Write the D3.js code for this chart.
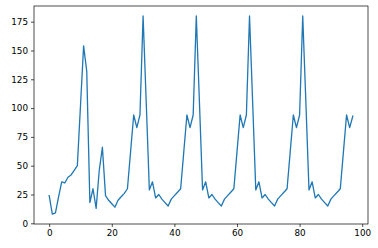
<!DOCTYPE html>
<html>
<head>
<meta charset="utf-8">
<script src="https://cdn.jsdelivr.net/npm/d3@7"></script>
<style>
  body { margin: 0; background: #fff; }
  .axis text { font-family: "DejaVu Sans", sans-serif; font-size: 8.8px; fill: #000; }
  .axis path, .axis line { stroke: #000; stroke-width: 0.7; }
  .line { fill: none; stroke: #1f77b4; stroke-width: 1.3; stroke-linejoin: round; stroke-linecap: square; }
</style>
</head>
<body>
<svg id="chart"></svg>
<script>
// values, one per x index 0..97
const values = [
  24, 8, 9, 23, 36, 35, 40, 42, 46, 50,
  102, 154, 132, 18, 30, 13, 46, 66, 24, 20,
  17, 14, 20, 23, 26, 30, 62, 94, 83, 94,
  180, 105, 29, 36, 22, 25, 21, 18, 15, 21,
  24, 27, 30, 62, 94, 83, 94, 180, 105, 29,
  36, 22, 25, 21, 18, 15, 21, 24, 27, 30,
  62, 94, 83, 94, 180, 105, 29, 36, 22, 25,
  21, 18, 15, 21, 24, 27, 30, 62, 94, 83,
  94, 180, 105, 29, 36, 22, 25, 21, 18, 15,
  21, 24, 27, 30, 62, 94, 83, 93
];
const xTicks = [0, 20, 40, 60, 80, 100];
const yTicks = [0, 25, 50, 75, 100, 125, 150, 175];

const W = 378, H = 248;
const margin = { top: 6, right: 10, bottom: 24, left: 34 };
const width = W - margin.left - margin.right;
const height = H - margin.top - margin.bottom;

// matplotlib style 5% padding around the data
const n = values.length;
const xPad = (n - 1) * 0.05;
const yMin = d3.min(values), yMax = d3.max(values);
const yPad = (yMax - yMin) * 0.05;

const xScale = d3.scaleLinear()
  .domain([-xPad, n - 1 + xPad])
  .range([0, width]);

const yScale = d3.scaleLinear()
  .domain([yMin - yPad, yMax + yPad])
  .range([height, 0]);

const svg = d3.select("#chart")
  .attr("width", W)
  .attr("height", H)
  .append("g")
  .attr("transform", "translate(" + margin.left + "," + margin.top + ")");

svg.append("path")
  .datum(values)
  .attr("class", "line")
  .attr("d", d3.line()
    .x((d, i) => xScale(i))
    .y(d => yScale(d)));

// frame
svg.append("rect")
  .attr("width", width)
  .attr("height", height)
  .attr("fill", "none")
  .attr("stroke", "#000")
  .attr("stroke-width", 0.7);

svg.append("g")
  .attr("class", "axis")
  .attr("transform", "translate(0," + height + ")")
  .call(d3.axisBottom(xScale).tickValues(xTicks).tickSize(3).tickPadding(3).tickSizeOuter(0))
  .call(g => g.select(".domain").remove());

svg.append("g")
  .attr("class", "axis")
  .call(d3.axisLeft(yScale).tickValues(yTicks).tickSize(3).tickPadding(3).tickSizeOuter(0))
  .call(g => g.select(".domain").remove());
</script>
</body>
</html>
